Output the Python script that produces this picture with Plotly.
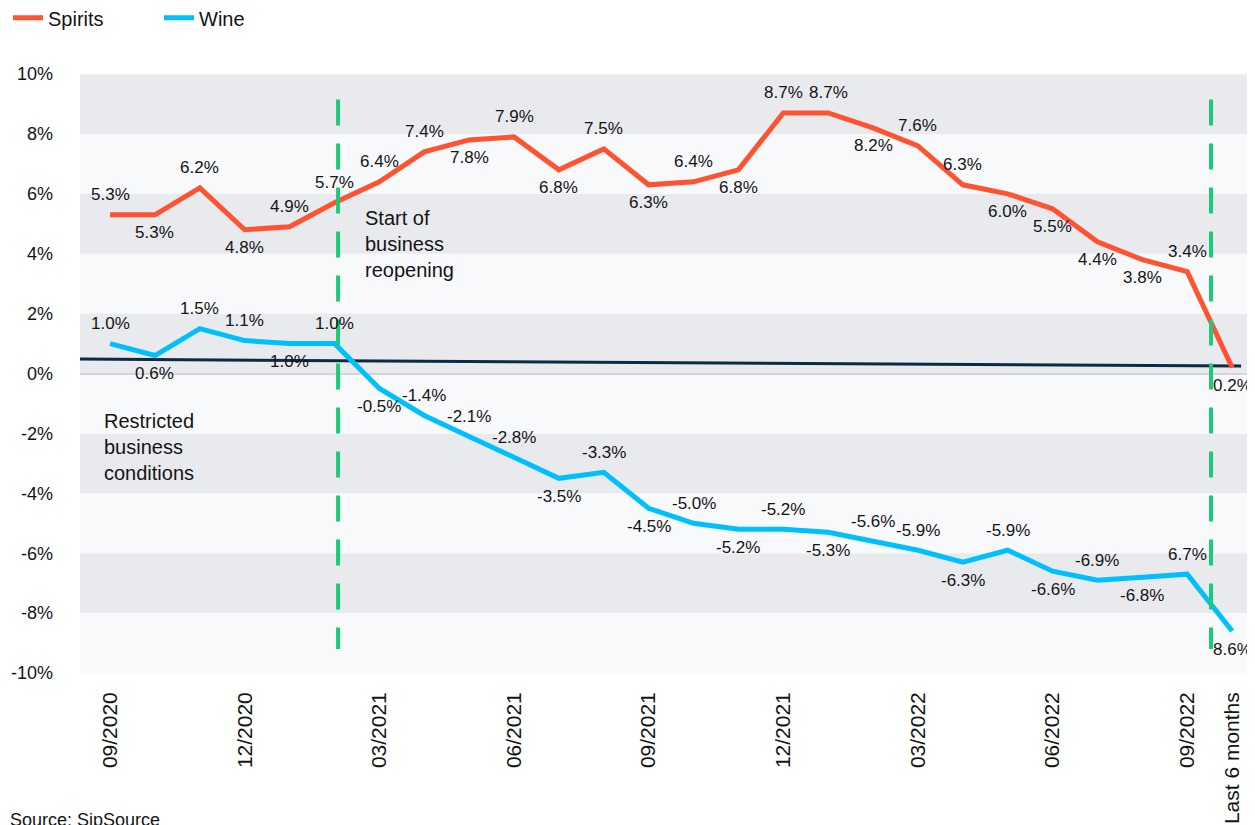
import plotly.graph_objects as go

categories = ["09/2020", "10/2020", "11/2020", "12/2020", "01/2021", "02/2021", "03/2021",
              "04/2021", "05/2021", "06/2021", "07/2021", "08/2021", "09/2021", "10/2021",
              "11/2021", "12/2021", "01/2022", "02/2022", "03/2022", "04/2022", "05/2022",
              "06/2022", "07/2022", "08/2022", "09/2022", "Last 6 months"]
tick_labels = ["09/2020", "12/2020", "03/2021", "06/2021", "09/2021", "12/2021",
               "03/2022", "06/2022", "09/2022", "Last 6 months"]
y_ticks = [-10, -8, -6, -4, -2, 0, 2, 4, 6, 8, 10]
y_tick_labels = ["-10%", "-8%", "-6%", "-4%", "-2%", "0%", "2%", "4%", "6%", "8%", "10%"]

spirits = [5.3, 5.3, 6.2, 4.8, 4.9, 5.7, 6.4, 7.4, 7.8, 7.9, 6.8, 7.5, 6.3, 6.4, 6.8,
           8.7, 8.7, 8.2, 7.6, 6.3, 6.0, 5.5, 4.4, 3.8, 3.4, 0.2]
wine = [1.0, 0.6, 1.5, 1.1, 1.0, 1.0, -0.5, -1.4, -2.1, -2.8, -3.5, -3.3, -4.5, -5.0, -5.2,
        -5.2, -5.3, -5.6, -5.9, -6.3, -5.9, -6.6, -6.9, -6.8, -6.7, -8.6]
spirits_labels = [f"{v:.1f}%" for v in spirits]
wine_labels = [f"{v:.1f}%" for v in wine[:-2]] + ["6.7%", "8.6%"]

trend_values = [0.48, 0.25]          # dark reference line (start, end)
marker_lines = [5.08, 24.53]         # dashed green period separators (category index)

# label placement: t = above, b = below
spirits_pos = ['t', 'b', 't', 'b', 't', 't', 't', 't', 'b', 't', 'b', 't', 'b', 't', 'b',
               't', 't', 'b', 't', 't', 'b', 'b', 'b', 'b', 't', 'b']
wine_pos = ['t', 'b', 't', 't', 'b', 't', 'b', 't', 't', 't', 'b', 't', 'b', 't', 'b',
            't', 'b', 't', 't', 'b', 't', 'b', 't', 'b', 't', 'b']

FONT = "Liberation Sans, Arial, sans-serif"
TXT = "#141414"
SPIRITS_C = "#ff5230"
WINE_C = "#00bfff"
GREEN = "#1ec97a"

fig = go.Figure()
fig.add_trace(go.Scatter(x=categories, y=spirits, mode="lines", name="Spirits",
                         line=dict(color=SPIRITS_C, width=5)))
fig.add_trace(go.Scatter(x=categories, y=wine, mode="lines", name="Wine",
                         line=dict(color=WINE_C, width=5)))

annotations = []
for series, labels, pos in ((spirits, spirits_labels, spirits_pos), (wine, wine_labels, wine_pos)):
    for c, v, lab, p in zip(categories, series, labels, pos):
        annotations.append(dict(x=c, y=v, text=lab, showarrow=False,
                                yshift=20 if p == 't' else -18,
                                font=dict(size=17, color=TXT, family=FONT)))

annotations.append(dict(x=5.64, y=4.32, xref="x", yref="y", xanchor="left", yanchor="middle",
                        text="Start of<br>business<br>reopening", showarrow=False, align="left",
                        font=dict(size=20, color=TXT, family=FONT)))
annotations.append(dict(x=-0.18, y=-2.45, xref="x", yref="y", xanchor="left", yanchor="middle",
                        text="Restricted<br>business<br>conditions", showarrow=False, align="left",
                        font=dict(size=20, color=TXT, family=FONT)))
annotations.append(dict(x=-0.0613, y=-0.226, xref="paper", yref="paper", xanchor="left",
                        yanchor="top", text="Source: SipSource", showarrow=False,
                        font=dict(size=18, color=TXT, family=FONT)))

shapes = []
for lo in y_ticks[:-1]:
    shapes.append(dict(type="rect", xref="paper", yref="y", x0=0, x1=1, y0=lo, y1=lo + 2,
                       fillcolor="#e8eaee" if lo % 4 == 0 else "#f8f9fb",
                       line=dict(width=0), layer="below"))
shapes.append(dict(type="line", xref="x", yref="y", x0=-0.67, x1=25.2,
                   y0=trend_values[0], y1=trend_values[1],
                   line=dict(color="#0b2a44", width=3), layer="between"))
for xv in marker_lines:
    shapes.append(dict(type="line", xref="x", yref="y", x0=xv, x1=xv, y0=9.15, y1=-9.2,
                       line=dict(color=GREEN, width=4, dash="26px,18px"), layer="above"))

fig.update_layout(
    width=1247, height=817,
    margin=dict(l=72, r=0, t=66, b=152, autoexpand=False),
    paper_bgcolor="white", plot_bgcolor="white",
    font=dict(family=FONT, color=TXT),
    showlegend=True,
    legend=dict(orientation="h", xref="container", yref="container", x=0.0, y=0.988,
                xanchor="left", yanchor="middle", font=dict(size=20, color=TXT, family=FONT),
                entrywidth=106, entrywidthmode="pixels", tracegroupgap=0,
                bgcolor="rgba(0,0,0,0)"),
    shapes=shapes,
    annotations=annotations,
)
fig.update_xaxes(type="category", categoryorder="array", categoryarray=categories,
                 range=[-0.67, 25.51], tickvals=tick_labels, ticktext=tick_labels,
                 tickangle=-90, tickfont=dict(size=21, color=TXT, family=FONT),
                 showgrid=False, zeroline=False, showline=False, ticks="",
                 ticklabelstandoff=14, automargin=False)
fig.update_yaxes(range=[-10, 10], tickvals=y_ticks, ticktext=y_tick_labels,
                 tickfont=dict(size=18, color=TXT, family=FONT), showgrid=False,
                 zeroline=True, zerolinecolor="#d3d6db", zerolinewidth=1.5,
                 showline=False, ticks="", ticklabelstandoff=26, automargin=False)

fig.write_html("out.html")
